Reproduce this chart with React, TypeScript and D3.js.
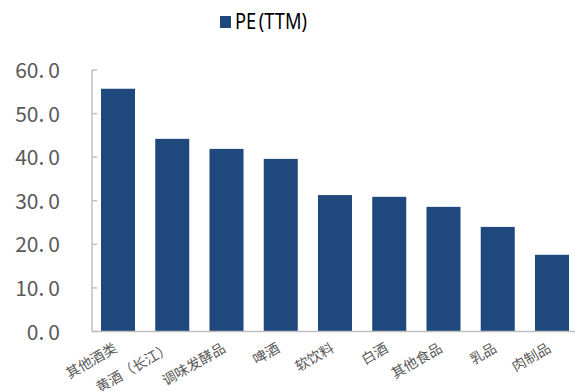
import React from "react";
import * as d3 from "d3";

const categories = ["其他酒类", "黄酒（长江）", "调味发酵品", "啤酒", "软饮料", "白酒", "其他食品", "乳品", "肉制品"];
const peValues = [55.7, 44.2, 41.9, 39.6, 31.3, 30.9, 28.6, 24.0, 17.6];
const yTicks = [0, 10, 20, 30, 40, 50, 60];
const seriesName = ["PE", "(TTM)"];

const W = 575;
const H = 391;
const left = 92;
const right = 575;
const bandRight = 578;
const top = 70;
const bottom = 331.5;
const barColor = "#1F497D";
const axisColor = "#BFBFBF";
const textColor = "#595959";

export default function App() {
  const x = d3
    .scaleBand<string>()
    .domain(categories)
    .range([left, bandRight])
    .paddingInner(0.373)
    .paddingOuter(0.166);
  const y = d3.scaleLinear().domain([0, 60]).range([bottom, top]);

  return (
    <svg
      width={W}
      height={H}
      style={{ position: "absolute", left: 0, top: 0, background: "#fff" }}
    >
      {/* legend */}
      <rect x={220} y={16} width={11} height={12} fill={barColor} />
      <text
        x={235}
        y={29}
        fontFamily="'Liberation Sans Narrow', 'Noto Sans', sans-serif"
        fontSize={21}
        fill="#000"
        textLength={72}
        lengthAdjust="spacingAndGlyphs"
      >
        {seriesName[0]}
        <tspan dx={3}>{seriesName[1]}</tspan>
      </text>

      {/* bars */}
      {categories.map((c, i) => (
        <rect
          key={c}
          x={x(c)!}
          y={y(peValues[i])}
          width={x.bandwidth()}
          height={bottom - y(peValues[i])}
          fill={barColor}
        />
      ))}

      {/* y axis */}
      <line x1={left} x2={left} y1={top} y2={bottom} stroke={axisColor} strokeWidth={1.5} />
      {yTicks.map((t) => {
        const [a, b] = d3.format(".1f")(t).split(".");
        return (
          <g key={t}>
            <line x1={left} x2={left + 5} y1={y(t)} y2={y(t)} stroke={axisColor} strokeWidth={1.5} />
            <text
              x={60}
              y={y(t) + 8}
              textAnchor="end"
              fontFamily="'Noto Sans CJK SC', 'Noto Sans', sans-serif"
              fontSize={21}
              fill={textColor}
            >
              {a}.<tspan dx={4}>{b}</tspan>
            </text>
          </g>
        );
      })}

      {/* x axis */}
      <line x1={left} x2={right} y1={bottom} y2={bottom} stroke={axisColor} strokeWidth={1.5} />
      {categories.map((c) => {
        const cx = x(c)! + x.bandwidth() / 2;
        const cy = 351;
        return (
          <text
            key={c}
            x={cx}
            y={cy}
            transform={`rotate(-30, ${cx}, ${cy})`}
            textAnchor="end"
            fontFamily="'Noto Sans CJK SC', sans-serif"
            fontSize={14}
            fill={textColor}
          >
            {c}
          </text>
        );
      })}
    </svg>
  );
}
